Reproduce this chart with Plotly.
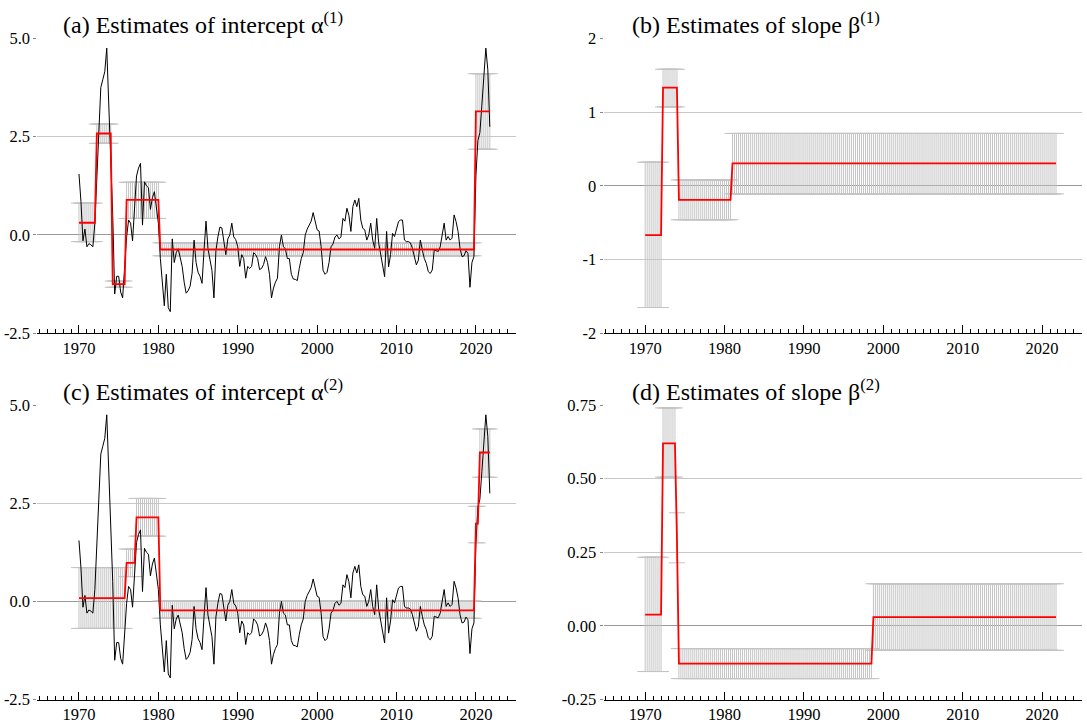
import numpy as np
import plotly.graph_objects as go

# ---------------- data ----------------
start_year = 1970  # quarterly series, 1970Q1 .. 2021Q4

gap = [
    1.55, 0.85, -0.15, 0.15,
    -0.3, -0.22, -0.25, -0.3,
    0.3, 1.5, 2.8, 3.75,
    3.95, 4.15, 4.75, 3.4,
    2.0, 0.5, -1.5, -1.05,
    -1.05, -1.45, -1.6, -0.9,
    -0.05, 0.38, 0.3, -0.15,
    0.7, 1.5, 1.7, 1.82,
    0.25, 1.35, 1.25, 1.2,
    0.65, 0.95, 1.1, 0.7,
    0.3, -0.6, -1.2, -1.8,
    -1.0, -1.85, -1.95, -0.1,
    -0.7, -0.45, -0.35, -0.55,
    -0.8, -1.2, -1.48, -1.42,
    -1.3, -0.97, -0.13, -0.7,
    -0.95, -1.05, -1.23, -0.4,
    0.35, -0.35, -0.6, -0.9,
    -1.6, -0.4, -0.05, 0.2,
    0.18, -0.2, -0.5, -0.1,
    0.0, 0.3, -0.05, -0.12,
    -0.3, -0.8, -0.5, -0.6,
    -1.1, -0.8, -0.85, -0.8,
    -0.45, -0.5, -0.6, -0.88,
    -0.85, -0.75, -0.55, -0.7,
    -1.0, -1.6, -1.35, -1.2,
    -1.1, -0.3, 0.0, -0.3,
    -0.35, -0.6, -0.6, -1.0,
    -1.12, -1.13, -1.16, -0.85,
    -0.6, -0.45, 0.0, 0.15,
    0.25, 0.35, 0.57, 0.3,
    0.13, 0.1, -0.3, -0.9,
    -1.0, -0.95, -0.7, -0.3,
    -0.23, -0.05, 0.0, -0.1,
    -0.05, 0.42, 0.35, 0.68,
    0.5, 0.09, 0.72, 0.89,
    0.72, 0.93, 0.38, 0.17,
    0.13, -0.13, 0.0, 0.3,
    -0.13, -0.34, 0.42, -0.2,
    -0.47, -0.8, -1.06, 0.09,
    -0.81, -0.5, 0.04, -0.04,
    0.13, 0.34, 0.38, 0.38,
    -0.13, -0.17, -0.17, -0.2,
    -0.34, -0.55, -0.76, -0.64,
    -0.13, -0.38, -0.6, -0.72,
    -0.93, -0.98, -0.89, -0.38,
    -0.4, -0.42, -0.3, 0.0,
    0.3, -0.13, -0.04, -0.13,
    -0.08, 0.51, 0.34, 0.09,
    -0.34, -0.55, -0.53, -0.4,
    -0.47, -1.33, -0.7, -0.55,
    1.5, 2.4, 2.6, 3.3,
    4.1, 4.75, 4.2, 2.75,
]

# regime segments: number of quarters, estimate, lower bound, upper bound
a_len = [9, 8, 7, 17, 159, 8]
a_est = [0.31, 2.58, -1.25, 0.89, -0.37, 3.14]
a_lo = [-0.17, 2.33, -1.33, 0.42, -0.53, 2.18]
a_hi = [0.81, 2.82, -1.17, 1.34, -0.20, 4.10]

b_len = [9, 8, 27, 164]
b_est = [-0.67, 1.33, -0.19, 0.305]
b_lo = [-1.65, 1.07, -0.46, -0.11]
b_hi = [0.32, 1.58, 0.08, 0.71]

c_len = [24, 5, 12, 159, 2, 6]
c_est = [0.08, 0.98, 2.14, -0.23, 1.98, 3.79]
c_lo = [-0.69, 0.63, 1.66, -0.43, 1.49, 3.16]
c_hi = [0.86, 1.33, 2.62, 0.01, 2.42, 4.39]

d_len = [9, 7, 1, 98, 93]
d_est = [0.038, 0.62, 0.30, -0.128, 0.030]
d_lo = [-0.155, 0.505, 0.214, -0.179, -0.083]
d_hi = [0.233, 0.74, 0.384, -0.077, 0.143]

year_ticks = [1970, 1980, 1990, 2000, 2010, 2020]
ya_ticks = [-2.5, 0.0, 2.5, 5.0]
ya_text = ["-2.5", "0.0", "2.5", "5.0"]
yb_ticks = [-2, -1, 0, 1, 2]
yb_text = ["-2", "-1", "0", "1", "2"]
yd_ticks = [-0.25, 0.0, 0.25, 0.5, 0.75]
yd_text = ["-0.25", "0.00", "0.25", "0.50", "0.75"]

titles = [
    "(a) Estimates of intercept α<sup>(1)</sup>",
    "(b) Estimates of slope β<sup>(1)</sup>",
    "(c) Estimates of intercept α<sup>(2)</sup>",
    "(d) Estimates of slope β<sup>(2)</sup>",
]

# ---------------- figure ----------------
t = start_year + np.arange(len(gap)) / 4.0
W, H = 1087, 723
FONT = "Liberation Serif, Times New Roman, serif"
GRAY_ERR = "#c4c4c4"

fig = go.Figure()

panels = [
    ("x", "y", a_len, a_est, a_lo, a_hi, True),
    ("x2", "y2", b_len, b_est, b_lo, b_hi, False),
    ("x3", "y3", c_len, c_est, c_lo, c_hi, True),
    ("x4", "y4", d_len, d_est, d_lo, d_hi, False),
]

for xa, ya, ln, est, lo, hi, with_gap in panels:
    e = np.repeat(est, ln)
    l = np.repeat(lo, ln)
    h = np.repeat(hi, ln)
    fig.add_trace(go.Scatter(
        x=t, y=e, xaxis=xa, yaxis=ya, mode="markers",
        marker=dict(size=2, color="rgba(0,0,0,0)"),
        error_y=dict(type="data", symmetric=False, array=h - e, arrayminus=e - l,
                     color=GRAY_ERR, thickness=1, width=8),
        hoverinfo="skip"))
    if with_gap:
        fig.add_trace(go.Scatter(x=t, y=gap, xaxis=xa, yaxis=ya, mode="lines",
                                 line=dict(color="black", width=1)))
    fig.add_trace(go.Scatter(x=t, y=e, xaxis=xa, yaxis=ya, mode="lines",
                             line=dict(color="#ff0000", width=1.8)))

def px_x(p):
    return p / W

def px_y(p):
    return 1 - p / H

xrng = [1964.75, 2025.05]
left_dom = [px_x(37.3), px_x(516.0)]
right_dom = [px_x(603.5), px_x(1082.2)]
top_dom = [px_y(333.3), px_y(38.3)]
bot_dom = [px_y(699.5), px_y(405.0)]

def xaxis_cfg(dom, anchor):
    return dict(domain=dom, anchor=anchor, range=xrng, showgrid=False, zeroline=False,
                automargin=False,
                showline=True, linecolor="black", linewidth=1,
                tickmode="array", tickvals=year_ticks, ticktext=[str(v) for v in year_ticks],
                ticks="inside", ticklen=8, tickwidth=1, tickcolor="black",
                tickfont=dict(family=FONT, size=16.5, color="black"),
                minor=dict(tick0=1965, dtick=1, ticks="inside", ticklen=4,
                           tickwidth=1, tickcolor="black", showgrid=False))

def yaxis_cfg(dom, anchor, rng, vals, text):
    return dict(domain=dom, anchor=anchor, range=rng, showline=False, automargin=False,
                tickmode="array", tickvals=vals, ticktext=text,
                ticks="outside", ticklen=3, tickwidth=1, tickcolor="#888888",
                tickfont=dict(family=FONT, size=16.5, color="black"),
                showgrid=True, gridcolor="#c8c8c8", gridwidth=1,
                zeroline=True, zerolinecolor="#9a9a9a", zerolinewidth=1)

fig.update_layout(
    width=W, height=H, margin=dict(l=0, r=0, t=0, b=0, autoexpand=False),
    paper_bgcolor="white", plot_bgcolor="white", showlegend=False,
    font=dict(family=FONT, color="black"),
    xaxis=xaxis_cfg(left_dom, "y"),
    xaxis2=xaxis_cfg(right_dom, "y2"),
    xaxis3=xaxis_cfg(left_dom, "y3"),
    xaxis4=xaxis_cfg(right_dom, "y4"),
    yaxis=yaxis_cfg(top_dom, "x", [-2.5, 5.0], ya_ticks, ya_text),
    yaxis2=yaxis_cfg(top_dom, "x2", [-2, 2], yb_ticks, yb_text),
    yaxis3=yaxis_cfg(bot_dom, "x3", [-2.5, 5.0], ya_ticks, ya_text),
    yaxis4=yaxis_cfg(bot_dom, "x4", [-0.25, 0.75], yd_ticks, yd_text),
)

title_pos = [(61, 39.5), (630, 39.5), (61, 406.5), (630, 406.5)]
for txt, (x0, y0) in zip(titles, title_pos):
    fig.add_annotation(text=txt, x=px_x(x0), y=px_y(y0), xref="paper", yref="paper",
                       xanchor="left", yanchor="bottom", showarrow=False,
                       font=dict(family=FONT, size=24, color="black"))

fig.write_html("out.html", config={"displayModeBar": False},
               post_script="document.body.style.margin='0';")
